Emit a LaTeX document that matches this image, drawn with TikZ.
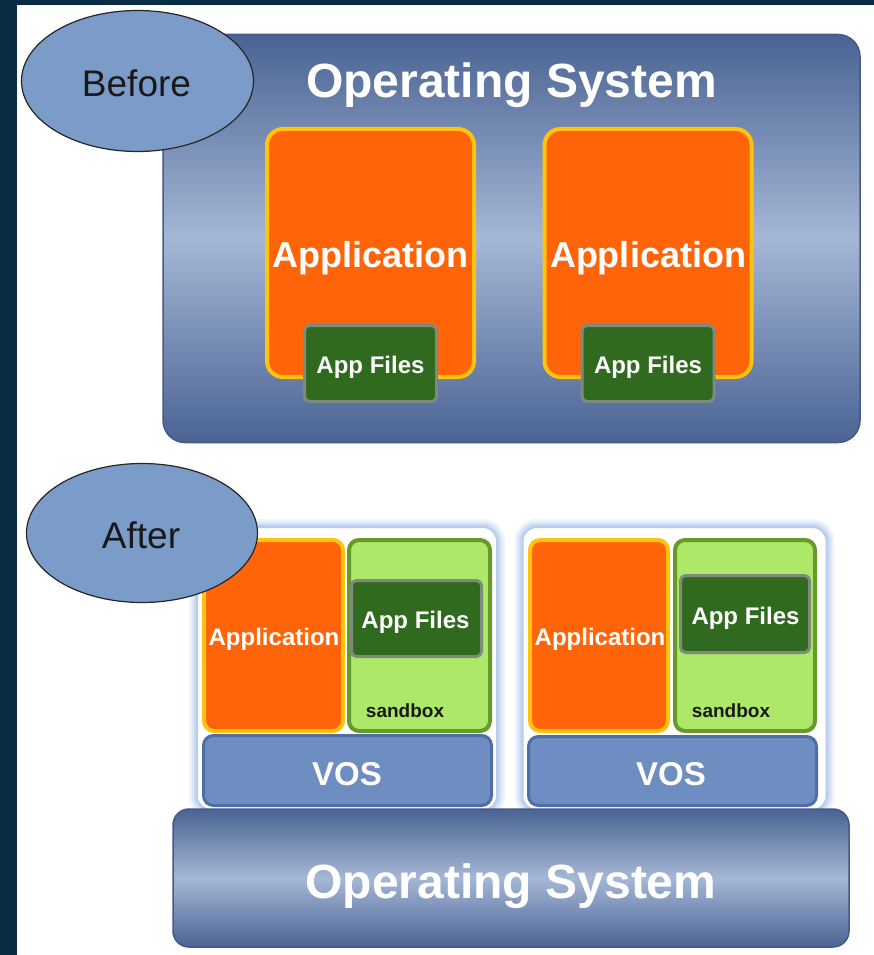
\documentclass[tikz,border=0pt]{standalone}
\usepackage{fontspec}
\setmainfont{Liberation Sans}
\usetikzlibrary{shapes.geometric}
\definecolor{frame}{HTML}{0A2C44}
\definecolor{ellfill}{HTML}{7B9BC9}
\definecolor{osdark}{HTML}{4A6393}
\definecolor{oslight}{HTML}{A5B7D6}
\definecolor{osedge}{HTML}{435A8A}
\definecolor{appor}{HTML}{FF6409}
\definecolor{appgold}{HTML}{FFC20E}
\definecolor{filesgreen}{HTML}{2F6A1F}
\definecolor{filesedge}{HTML}{7F8A7F}
\definecolor{sandfill}{HTML}{ADE868}
\definecolor{sandedge}{HTML}{679A2B}
\definecolor{vosfill}{HTML}{6E8DC0}
\definecolor{vosedge}{HTML}{4F6EA6}
\definecolor{glowa}{HTML}{F0F4FB}
\definecolor{glowb}{HTML}{DDE7F6}
\definecolor{glowc}{HTML}{C8D8F0}
\definecolor{glowd}{HTML}{B9CDEB}
\tikzset{
  osbox/.style={draw=osedge, line width=1.5pt, rounded corners=#1, top color=osdark, bottom color=osdark, middle color=oslight, inner sep=0pt},
  appbox/.style={fill=appor, draw=appgold, line width=4pt, rounded corners=#1, inner sep=0pt},
  filesbox/.style={fill=filesgreen, draw=filesedge, line width=3pt, rounded corners=5pt, inner sep=0pt},
  sandboxbox/.style={fill=sandfill, draw=sandedge, line width=4pt, rounded corners=10pt, inner sep=0pt},
  vosbox/.style={fill=vosfill, draw=vosedge, line width=3pt, rounded corners=10pt, inner sep=0pt},
  glowone/.style={draw=glowa, line width=16pt, rounded corners=14pt, inner sep=0pt},
  glowtwo/.style={draw=glowb, line width=11pt, rounded corners=14pt, inner sep=0pt},
  glowthree/.style={draw=glowc, line width=6pt, rounded corners=14pt, inner sep=0pt},
  glowinner/.style={draw=glowd, fill=white, line width=2pt, rounded corners=14pt, inner sep=0pt},
  tagell/.style={ellipse, fill=ellfill, draw=black!85, line width=1.2pt, inner sep=0pt},
  wtxt/.style={text=white, font=\bfseries\fontsize{#1}{#1}\selectfont, anchor=base, inner sep=0pt},
  btxt/.style={text=black!90, font=\fontsize{#1}{#1}\selectfont, anchor=base, inner sep=0pt},
  stxt/.style={text=black!90, font=\bfseries\fontsize{#1}{#1}\selectfont, anchor=base, inner sep=0pt}
}
\begin{document}
\begin{tikzpicture}[x=1pt,y=-1pt]
\useasboundingbox (0,0) rectangle (874,955);
\fill[frame] (0,0) rectangle (874,955);
\fill[white] (17,5) rectangle (874,955);

% ---------- Before ----------
\node[osbox=22pt, minimum width=697pt, minimum height=408pt] (os1) at (511.5,238.5) {};
\node[wtxt=48] (os1t) at (511.5,98) {Operating System};

\node[appbox=16pt, minimum width=207pt, minimum height=248pt] (app1) at (370.5,253) {};
\node[appbox=16pt, minimum width=207pt, minimum height=248pt] (app2) at (648,253) {};
\node[wtxt=36] (app1t) at (370.5,267) {Application};
\node[wtxt=36] (app2t) at (648,267) {Application};

\node[filesbox, minimum width=132pt, minimum height=76pt] (f1) at (370.5,363.5) {};
\node[filesbox, minimum width=132pt, minimum height=76pt] (f2) at (648,363.5) {};
\node[wtxt=24] (f1t) at (370.5,373) {App Files};
\node[wtxt=24] (f2t) at (648,373) {App Files};

\node[tagell, minimum width=232pt, minimum height=141pt] (before) at (137.5,81) {};
\node[btxt=37] (beforet) at (136.5,97) {Before};

% ---------- After ----------
\foreach \g in {glowone,glowtwo,glowthree}{
  \node[\g, minimum width=300pt, minimum height=283pt] (c1\g) at (347,668.5) {};
  \node[\g, minimum width=304pt, minimum height=283pt] (c2\g) at (674.5,668.5) {};
}
\node[glowinner, minimum width=300pt, minimum height=283pt] (c1) at (347,668.5) {};
\node[glowinner, minimum width=304pt, minimum height=283pt] (c2) at (674.5,668.5) {};

\node[osbox=16pt, minimum width=676pt, minimum height=138pt] (os2) at (511,878) {};
\node[wtxt=48] (os2t) at (511,898) {Operating System};

\node[appbox=10pt, minimum width=139pt, minimum height=191pt] (app3) at (273.5,635.5) {};
\node[appbox=10pt, minimum width=138pt, minimum height=191pt] (app4) at (599,635.5) {};
\node[wtxt=24] (app3t) at (274,645) {Application};
\node[wtxt=24] (app4t) at (600,645) {Application};

\node[sandboxbox, minimum width=141pt, minimum height=191pt] (sb1) at (419.5,635.5) {};
\node[sandboxbox, minimum width=140pt, minimum height=191pt] (sb2) at (745,635.5) {};
\node[stxt=19] (sb1t) at (405,717) {sandbox};
\node[stxt=19] (sb2t) at (731,717) {sandbox};

\node[filesbox, minimum width=130pt, minimum height=76pt] (f3) at (416.5,618.5) {};
\node[filesbox, minimum width=129pt, minimum height=77pt] (f4) at (745,614) {};
\node[wtxt=24] (f3t) at (415.5,628) {App Files};
\node[wtxt=24] (f4t) at (745.5,624) {App Files};

\node[vosbox, minimum width=288pt, minimum height=70pt] (vos1) at (347.5,770.5) {};
\node[vosbox, minimum width=288pt, minimum height=69pt] (vos2) at (672.5,771) {};
\node[wtxt=33] (vos1t) at (347,785) {VOS};
\node[wtxt=33] (vos2t) at (671,785) {VOS};

\node[tagell, minimum width=231pt, minimum height=139pt] (after) at (142,533) {};
\node[btxt=37] (aftert) at (141,548) {After};
\end{tikzpicture}
\end{document}
